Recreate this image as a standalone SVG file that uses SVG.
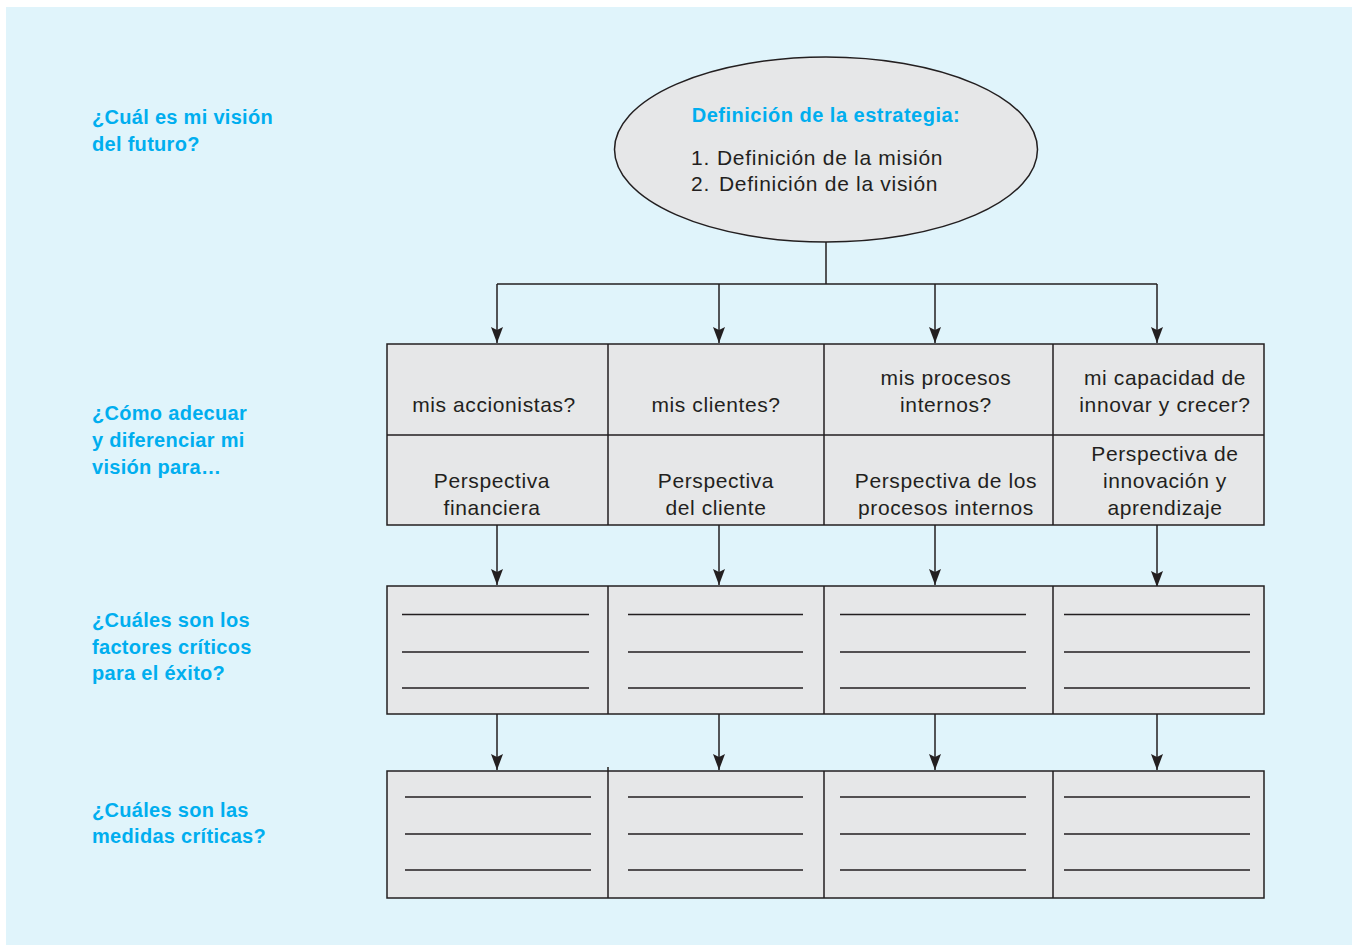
<svg xmlns="http://www.w3.org/2000/svg" width="1352" height="945" viewBox="0 0 1352 945">
<defs>
<marker id="ah" viewBox="0 0 16 12" refX="16" refY="6" markerWidth="16" markerHeight="12" markerUnits="userSpaceOnUse" orient="auto">
<path d="M0,0 L16,6 L0,12 L3,6 Z" fill="#231f20"/>
</marker>
<style>
.q{font-family:"Liberation Sans",Arial,sans-serif;font-weight:bold;font-size:20px;letter-spacing:0.3px;fill:#00aeef}
.t{font-family:"Liberation Sans",Arial,sans-serif;font-size:21px;letter-spacing:0.6px;fill:#231f20;text-anchor:middle}
.box{fill:#e6e7e8;stroke:#231f20;stroke-width:1.5}
.div{stroke:#231f20;stroke-width:1.5;fill:none}
.ln{stroke:#231f20;stroke-width:1.5}
.con{stroke:#231f20;stroke-width:1.5;fill:none}
</style>
</defs>
<rect x="0" y="0" width="1352" height="945" fill="#ffffff"/>
<rect x="6" y="7" width="1346" height="938" fill="#e0f4fb"/>

<g id="labels">
<text class="q" x="92" y="124">¿Cuál es mi visión</text>
<text class="q" x="92" y="151">del futuro?</text>
<text class="q" x="92" y="420">¿Cómo adecuar</text>
<text class="q" x="92" y="447">y diferenciar mi</text>
<text class="q" x="92" y="474">visión para…</text>
<text class="q" x="92" y="627">¿Cuáles son los</text>
<text class="q" x="92" y="654">factores críticos</text>
<text class="q" x="92" y="680">para el éxito?</text>
<text class="q" x="92" y="817">¿Cuáles son las</text>
<text class="q" x="92" y="843">medidas críticas?</text>
</g>

<g id="connectors">
<path class="con" d="M826,242 V284 M497,284 H1157"/>
<line class="con" x1="497" y1="284" x2="497" y2="343" marker-end="url(#ah)"/>
<line class="con" x1="719" y1="284" x2="719" y2="343" marker-end="url(#ah)"/>
<line class="con" x1="935" y1="284" x2="935" y2="343" marker-end="url(#ah)"/>
<line class="con" x1="1157" y1="284" x2="1157" y2="343" marker-end="url(#ah)"/>
<line class="con" x1="497" y1="525" x2="497" y2="585" marker-end="url(#ah)"/>
<line class="con" x1="719" y1="525" x2="719" y2="585" marker-end="url(#ah)"/>
<line class="con" x1="935" y1="525" x2="935" y2="585" marker-end="url(#ah)"/>
<line class="con" x1="1157" y1="525" x2="1157" y2="587" marker-end="url(#ah)"/>
<line class="con" x1="497" y1="714" x2="497" y2="770" marker-end="url(#ah)"/>
<line class="con" x1="719" y1="714" x2="719" y2="770" marker-end="url(#ah)"/>
<line class="con" x1="935" y1="714" x2="935" y2="770" marker-end="url(#ah)"/>
<line class="con" x1="1157" y1="714" x2="1157" y2="770" marker-end="url(#ah)"/>
</g>

<g id="strategy">
<ellipse cx="826" cy="149.5" rx="211.5" ry="92.5" fill="#e6e7e8" stroke="#231f20" stroke-width="1.5"/>
<text class="q" x="826" y="122" text-anchor="middle" style="letter-spacing:0.5px">Definición de la estrategia:</text>
<text class="t" x="691" y="165" style="text-anchor:start;letter-spacing:0.7px">1.</text>
<text class="t" x="717" y="165" style="text-anchor:start;letter-spacing:0.7px">Definición de la misión</text>
<text class="t" x="691" y="191" style="text-anchor:start;letter-spacing:0.7px">2.</text>
<text class="t" x="719" y="191" style="text-anchor:start;letter-spacing:0.7px">Definición de la visión</text>
</g>

<g id="perspectives">
<rect class="box" x="387" y="344" width="877" height="181"/>
<path class="div" d="M387,435 H1264 M608,344 V525 M824,344 V525 M1053,344 V525"/>
<text class="t" x="494" y="412">mis accionistas?</text>
<text class="t" x="716" y="412">mis clientes?</text>
<text class="t" x="946" y="385">mis procesos</text>
<text class="t" x="946" y="412">internos?</text>
<text class="t" x="1165" y="385">mi capacidad de</text>
<text class="t" x="1165" y="412">innovar y crecer?</text>
<text class="t" x="492" y="488">Perspectiva</text>
<text class="t" x="492" y="515">financiera</text>
<text class="t" x="716" y="488">Perspectiva</text>
<text class="t" x="716" y="515">del cliente</text>
<text class="t" x="946" y="488">Perspectiva de los</text>
<text class="t" x="946" y="515">procesos internos</text>
<text class="t" x="1165" y="461">Perspectiva de</text>
<text class="t" x="1165" y="488">innovación y</text>
<text class="t" x="1165" y="515">aprendizaje</text>
</g>

<g id="factors">
<rect class="box" x="387" y="586" width="877" height="128"/>
<path class="div" d="M608,586 V714 M824,586 V714 M1053,586 V714"/>
<path class="ln" d="M402,614.5 H589 M402,652 H589 M402,688 H589 M628,614.5 H803 M628,652 H803 M628,688 H803 M840,614.5 H1026 M840,652 H1026 M840,688 H1026 M1064,614.5 H1250 M1064,652 H1250 M1064,688 H1250"/>
</g>

<g id="measures">
<rect class="box" x="387" y="771" width="877" height="127"/>
<path class="div" d="M608,767 V898 M824,771 V898 M1053,771 V898"/>
<path class="ln" d="M405,797 H591 M405,834 H591 M405,870 H591 M628,797 H803 M628,834 H803 M628,870 H803 M840,797 H1026 M840,834 H1026 M840,870 H1026 M1064,797 H1250 M1064,834 H1250 M1064,870 H1250"/>
</g>
</svg>
